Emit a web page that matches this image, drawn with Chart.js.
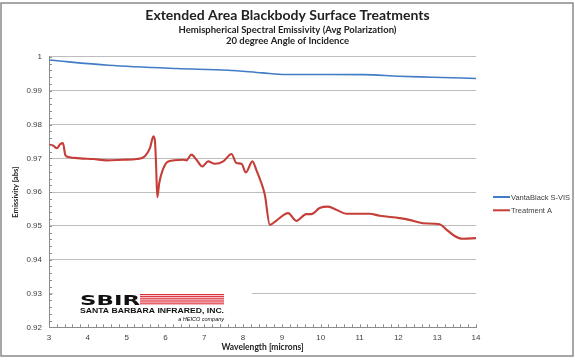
<!DOCTYPE html>
<html>
<head>
<meta charset="utf-8">
<script src="https://cdn.jsdelivr.net/npm/chart.js@4.4.1/dist/chart.umd.min.js"></script>
<style>
  html, body { margin: 0; padding: 0; background: #fff; }
  #wrap { width: 575px; height: 360px; }
</style>
</head>
<body>
<div id="wrap"><canvas id="emissivityChart" width="575" height="360"></canvas></div>
<script>
// Titles and labels
const chartTitle = 'Extended Area Blackbody Surface Treatments';
const chartSubtitle = ['Hemispherical Spectral Emissivity (Avg Polarization)', '20 degree Angle of Incidence'];
const xTitle = 'Wavelength [microns]';
const yTitle = 'Emissivity [abs]';
const seriesNames = ['VantaBlack S-VIS', 'Treatment A'];

// VantaBlack S-VIS
const blueWavelength = [3.00, 4.53, 6.29, 7.61, 8.49, 9.10, 9.80, 11.12, 12.00, 12.88, 14.00];
const blueEmissivity = [0.9991, 0.99755, 0.99657, 0.99608, 0.99529, 0.99480, 0.99480, 0.99478, 0.99431, 0.99402, 0.99363];

// Treatment A
const redWavelength = [3.00, 3.12, 3.20, 3.29, 3.36, 3.42, 3.50, 3.80, 4.14, 4.49, 4.92, 5.26, 5.47, 5.60, 5.69, 5.73,
  5.76, 5.79, 5.84, 5.93, 6.07, 6.46, 6.54, 6.67, 6.80, 6.95, 7.10, 7.27, 7.49, 7.70, 7.83, 7.96, 8.07, 8.24, 8.34,
  8.47, 8.56, 8.69, 8.86, 9.16, 9.37, 9.63, 9.76, 9.97, 10.19, 10.40, 10.66, 10.92, 11.26, 11.52, 12.03, 12.28,
  12.63, 13.06, 13.23, 13.44, 13.66, 14.00];
const redEmissivity = [0.9740, 0.9737, 0.9730, 0.9742, 0.9745, 0.9710, 0.9704, 0.9700, 0.9698, 0.9694, 0.9696, 0.9698,
  0.9706, 0.9730, 0.9765, 0.9750, 0.9676, 0.9585, 0.9627, 0.9666, 0.9691, 0.9696, 0.9694, 0.9711, 0.9696, 0.9676,
  0.9691, 0.9684, 0.9691, 0.9713, 0.9686, 0.9684, 0.9658, 0.9691, 0.9666, 0.9627, 0.9592, 0.9503, 0.9516, 0.9538,
  0.9515, 0.9535, 0.9535, 0.9553, 0.9557, 0.9548, 0.9536, 0.9536, 0.9536, 0.9530, 0.9523, 0.9518, 0.9508, 0.9505,
  0.9490, 0.9471, 0.9462, 0.9464];

// Axis ranges
const xMin = 3, xMax = 14, xStep = 1, xMinorStep = 0.2;
const yMin = 0.92, yMax = 1, yStep = 0.01, yMinorStep = 0.002;

const blueColor = '#437cc6';
const redColor = '#c53e37';
const textColor = '#404040';

function toPoints(xs, ys) {
    return xs.map((x, i) => ({ x: x, y: ys[i] }));
}

// draw text stretched to a given width (logo lettering)
function stretchText(ctx, text, x, y, width) {
    const w = ctx.measureText(text).width;
    ctx.save();
    ctx.translate(x, y);
    ctx.scale(width / w, 1);
    ctx.fillText(text, 0, 0);
    ctx.restore();
}

// White page, grey frame, minor ticks, legend and logo
const decorPlugin = {
    id: 'decor',
    beforeDraw(chart) {
        const ctx = chart.ctx;
        ctx.save();
        ctx.fillStyle = '#ffffff';
        ctx.fillRect(0, 0, chart.width, chart.height);
        ctx.restore();
    },
    afterDatasetsDraw(chart) {
        const ctx = chart.ctx;
        const area = chart.chartArea;
        const xs = chart.scales.x;
        const ys = chart.scales.y;
        ctx.save();
        ctx.strokeStyle = '#8c8c8c';
        ctx.lineWidth = 1;
        // minor ticks on the y axis
        const yCount = Math.round((yMax - yMin) / yMinorStep);
        for (let i = 0; i <= yCount; i++) {
            const py = Math.round(ys.getPixelForValue(yMin + i * yMinorStep)) + 0.5;
            ctx.beginPath();
            ctx.moveTo(area.left, py);
            ctx.lineTo(area.left + 3, py);
            ctx.stroke();
        }
        // minor ticks on the x axis
        const xCount = Math.round((xMax - xMin) / xMinorStep);
        for (let i = 0; i <= xCount; i++) {
            const px = Math.round(xs.getPixelForValue(xMin + i * xMinorStep)) + 0.5;
            ctx.beginPath();
            ctx.moveTo(px, area.bottom);
            ctx.lineTo(px, area.bottom - 3);
            ctx.stroke();
        }
        ctx.restore();
    },
    afterDraw(chart) {
        const ctx = chart.ctx;
        ctx.save();

        // legend
        chart.data.datasets.forEach((ds, i) => {
            const ly = 197 + i * 13.3;
            ctx.strokeStyle = ds.borderColor;
            ctx.lineWidth = 2;
            ctx.beginPath();
            ctx.moveTo(493, ly);
            ctx.lineTo(510, ly);
            ctx.stroke();
            ctx.fillStyle = textColor;
            ctx.font = '7.5px "Liberation Sans", Arial, sans-serif';
            ctx.textBaseline = 'middle';
            ctx.textAlign = 'left';
            ctx.fillText(ds.label, 511, ly + 0.5);
        });

        // SBIR logo box
        ctx.fillStyle = '#ffffff';
        ctx.fillRect(53, 287, 199, 34);
        ctx.fillStyle = '#111111';
        ctx.textBaseline = 'alphabetic';
        ctx.textAlign = 'left';
        ctx.font = '900 14px "DejaVu Sans", sans-serif';
        stretchText(ctx, 'SBIR', 80, 304.5, 60);
        ctx.fillStyle = '#dc2f3c';
        for (let i = 0; i < 6; i++) {
            ctx.fillRect(140, 294 + i * 1.85, 84, 1.1);
        }
        ctx.fillStyle = '#111111';
        ctx.font = 'bold 7px "Liberation Sans", Arial, sans-serif';
        stretchText(ctx, 'SANTA BARBARA INFRARED, INC.', 80, 313, 144);
        ctx.font = 'italic 5.5px "Liberation Sans", Arial, sans-serif';
        ctx.textAlign = 'right';
        ctx.fillText('a HEICO company', 224, 321);

        // outer frame
        ctx.strokeStyle = '#8a8a8a';
        ctx.lineWidth = 1.5;
        ctx.strokeRect(1, 3, 572, 353);
        ctx.restore();
    }
};

const chart = new Chart(document.getElementById('emissivityChart'), {
    type: 'line',
    data: {
        datasets: [{
            label: seriesNames[0],
            data: toPoints(blueWavelength, blueEmissivity),
            borderColor: blueColor,
            borderWidth: 1.6,
            pointRadius: 0,
            cubicInterpolationMode: 'monotone',
            order: 1
        }, {
            label: seriesNames[1],
            data: toPoints(redWavelength, redEmissivity),
            borderColor: redColor,
            borderWidth: 2.1,
            pointRadius: 0,
            cubicInterpolationMode: 'monotone',
            order: 0
        }]
    },
    options: {
        responsive: false,
        animation: false,
        devicePixelRatio: 1,
        layout: { padding: { left: 2, right: 2, top: 5, bottom: 3 } },
        plugins: {
            legend: { display: false },
            tooltip: { enabled: false },
            title: {
                display: true,
                text: chartTitle,
                color: '#222222',
                font: { family: 'Lato, sans-serif', size: 14, weight: 'bold', lineHeight: 1.2 },
                padding: { top: 2, bottom: 0 }
            },
            subtitle: {
                display: true,
                text: chartSubtitle,
                color: '#222222',
                font: { family: 'Lato, sans-serif', size: 9.5, weight: 'bold', lineHeight: 1.22 },
                padding: { top: 0, bottom: 10 }
            }
        },
        scales: {
            x: {
                type: 'linear',
                min: xMin,
                max: xMax,
                afterFit: (s) => { s.height = 29.7; },
                ticks: {
                    stepSize: xStep,
                    color: textColor,
                    padding: 6,
                    font: { family: '"Liberation Sans", Arial, sans-serif', size: 8 }
                },
                grid: { display: false, drawTicks: false },
                border: { color: '#8c8c8c', width: 1 },
                title: {
                    display: true,
                    text: xTitle,
                    color: '#222222',
                    padding: { top: 3, bottom: 5 },
                    font: { family: 'Lato, sans-serif', size: 8.5, weight: 'bold' }
                }
            },
            y: {
                type: 'linear',
                min: yMin,
                max: yMax,
                afterFit: (s) => { s.width = 47; },
                ticks: {
                    stepSize: yStep,
                    color: textColor,
                    padding: 7,
                    font: { family: '"Liberation Sans", Arial, sans-serif', size: 8 },
                    callback: (v) => String(Number(v.toFixed(3)))
                },
                grid: { color: '#bdbdbd', lineWidth: 1, drawTicks: false },
                border: { color: '#8c8c8c', width: 1 },
                title: {
                    display: true,
                    text: yTitle,
                    color: '#222222',
                    padding: { top: 9, bottom: 0 },
                    font: { family: 'Lato, sans-serif', size: 7.5, weight: 'bold' }
                }
            },
            legendSpace: {
                type: 'linear',
                position: 'right',
                display: true,
                afterFit: (s) => { s.width = 97; },
                ticks: { display: false },
                grid: { display: false, drawTicks: false },
                border: { display: false }
            }
        }
    },
    plugins: [decorPlugin]
});
</script>
</body>
</html>
